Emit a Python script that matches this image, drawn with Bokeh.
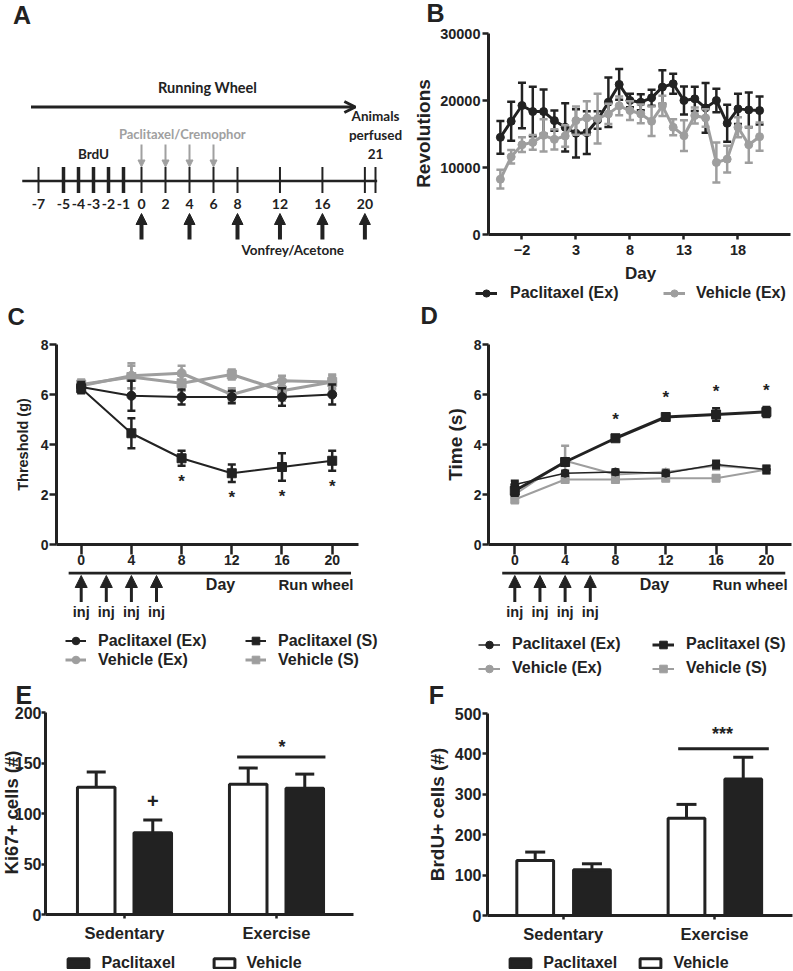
import math
from bokeh.plotting import figure
from bokeh.models import (ColumnDataSource, Range1d, FixedTicker, Arrow, NormalHead, OpenHead,
                          Legend, LegendItem, LinearInterpolator)
from bokeh.layouts import row, column
from bokeh.transform import transform, dodge
from bokeh.core.properties import value
from bokeh.embed import file_html
from bokeh.resources import INLINE

# ---------------- data ----------------
# Panel A: experimental timeline (days)
tl_tick_days = [-7, -5, -4, -3, -2, -1, 0, 2, 4, 6, 8, 12, 16, 20, 21]
tl_label_days = [-7, -5, -4, -3, -2, -1, 0, 2, 4, 6, 8, 12, 16, 20]
tl_labels = ["-7", "-5", "-4", "-3", "-2", "-1", "0", "2", "4", "6", "8", "12", "16", "20"]
brdu_days = [-5, -4, -3, -2, -1]
drug_days = [0, 2, 4, 6]
test_days = [0, 4, 8, 12, 16, 20]
perfusion_day = 21
wheel_span = [-7.6, 19.1]
# schematic (broken) day scale of the timeline drawing
tl_scale_days = [-9, -7, -5, -1, 0, 8, 21, 22]
tl_scale_px = [13, 38, 63, 123, 141, 237, 375, 386]

# Panel B: running wheel revolutions
b_days = list(range(-4, 21))
b_pac = [14500, 16900, 19250, 18350, 18350, 17000, 16000, 15100, 15200, 17100, 19750, 22400, 20000,
         19750, 20400, 22000, 22500, 20000, 20250, 18900, 20000, 16600, 18750, 18600, 18500]
b_pac_sem = [2450, 2900, 3400, 3700, 3300, 1500, 3600, 3600, 3200, 1300, 3700, 2300, 1000,
             1200, 1200, 2500, 1500, 2100, 1800, 3700, 1750, 2750, 2250, 2600, 2100]
b_veh = [8250, 11600, 13400, 13750, 14800, 14200, 14700, 17000, 17400, 17300, 18000, 19200, 18500,
         18000, 16900, 19200, 16000, 14750, 17750, 17400, 10750, 11250, 16000, 13400, 14600]
b_veh_sem = [1400, 1000, 1100, 1100, 2400, 1500, 1600, 2100, 2500, 3700, 1500, 1400, 1400,
             1400, 2200, 1500, 1200, 2300, 1200, 1300, 3000, 2000, 1500, 2700, 2100]
b_xticks = [-2, 3, 8, 13, 18]
b_yticks = [0, 10000, 20000, 30000]

# Panels C & D
cd_days = [0, 4, 8, 12, 16, 20]
cd_yticks = [0, 2, 4, 6, 8]
inj_days = [0, 2, 4, 6]
run_start, run_end = -1.0, 21.5
sig_days = [8, 12, 16, 20]

c_pac_ex = [6.3, 5.95, 5.9, 5.9, 5.9, 6.0]
c_pac_ex_sem = [0.2, 0.6, 0.3, 0.25, 0.35, 0.4]
c_pac_s = [6.25, 4.45, 3.45, 2.85, 3.1, 3.35]
c_pac_s_sem = [0.2, 0.6, 0.3, 0.35, 0.55, 0.4]
c_veh_ex = [6.35, 6.75, 6.85, 6.0, 6.55, 6.5]
c_veh_ex_sem = [0.2, 0.5, 0.3, 0.25, 0.2, 0.25]
c_veh_s = [6.4, 6.7, 6.45, 6.8, 6.15, 6.5]
c_veh_s_sem = [0.2, 0.45, 0.3, 0.2, 0.4, 0.3]

d_pac_ex = [2.4, 2.85, 2.9, 2.85, 3.2, 3.0]
d_pac_ex_sem = [0.15, 0.1, 0.1, 0.1, 0.15, 0.15]
d_pac_s = [2.15, 3.3, 4.25, 5.1, 5.2, 5.3]
d_pac_s_sem = [0.2, 0.15, 0.1, 0.1, 0.25, 0.2]
d_veh_ex = [2.0, 3.35, 2.8, 2.9, 3.15, 3.0]
d_veh_ex_sem = [0.15, 0.6, 0.1, 0.1, 0.15, 0.1]
d_veh_s = [1.8, 2.6, 2.6, 2.65, 2.65, 3.0]
d_veh_s_sem = [0.15, 0.1, 0.1, 0.1, 0.1, 0.15]

# Panels E & F
groups = ["Sedentary", "Exercise"]
e_veh = [126, 129]
e_veh_sem = [15, 16]
e_pac = [81, 125]
e_pac_sem = [12.5, 14]
e_yticks = [0, 50, 100, 150, 200]
f_veh = [136, 241]
f_veh_sem = [21, 34]
f_pac = [113, 338]
f_pac_sem = [15, 54]
f_yticks = [0, 100, 200, 300, 400, 500]

# ---------------- style ----------------
FONT = "Liberation Sans"
AFONT = "Lato"
BLACK = "#222222"
GRAY = "#9e9e9e"
AGRAY = "#a0a0a0"
MID = 0.35  # em offset between a text's baseline and its middle

# page geometry (page pixels; the layout starts at the page's top-left corner)
LX, LW = 0, 405
RX, RW = 405, 388


class Frame:
    def __init__(s, left, top, width, height, x0, x1, y0, y1):
        s.left, s.top, s.width, s.height = left, top, width, height
        s.x0, s.x1, s.y0, s.y1 = x0, x1, y0, y1
        s.bottom = top + height
        s.upp = (y1 - y0) / height

    def dx(s, px):
        return s.x0 + (px - s.left) * (s.x1 - s.x0) / s.width

    def dy(s, py):
        return s.y0 + (s.bottom - py) * s.upp


def panel_frame(cx, cw, ry, rh, ax_px, ax_val, ppx, base_py, ppy):
    """Frame filling a whole cell; data value ax_val sits at page x ax_px, y=0 at page y base_py."""
    x0 = ax_val - (ax_px - cx) / ppx
    y0 = -(ry + rh - base_py) / ppy
    return Frame(cx, ry, cw, rh, x0, x0 + cw / ppx, y0, y0 + rh / ppy)


def make_fig(fr, cx, cw, ry, rh):
    p = figure(frame_width=fr.width, frame_height=fr.height,
               x_range=Range1d(fr.x0, fr.x1), y_range=Range1d(fr.y0, fr.y1),
               min_border_left=fr.left - cx, min_border_right=cx + cw - (fr.left + fr.width),
               min_border_top=fr.top - ry, min_border_bottom=ry + rh - fr.bottom,
               output_backend="svg", toolbar_location=None, title=None, frame_align=False)
    p.grid.visible = False
    p.outline_line_color = None
    return p


def canvas(cx, cw, ry, rh, x0=None, x1=None):
    xr = Range1d(cx, cx + cw) if x0 is None else Range1d(x0, x1)
    p = figure(frame_width=cw, frame_height=rh, x_range=xr, y_range=Range1d(ry + rh, ry),
               x_axis_type=None, y_axis_type=None, output_backend="svg", toolbar_location=None,
               min_border_left=0, min_border_right=0, min_border_top=0, min_border_bottom=0,
               title=None, frame_align=False)
    p.outline_line_color = None
    return p


def ctext(p, xs, ys, texts, px, up=-1.0, color=BLACK, align="center", font=FONT):
    """ys are baselines; up = data units per screen pixel upward (-1 on page-pixel strips)."""
    p.text(x=xs, y=[y + MID * px * up for y in ys], text=texts, text_font=value(font),
           text_font_size=f"{px}px", text_font_style="bold", text_color=color, text_align=align,
           text_baseline="middle")


def ftext(p, fr, px_x, px_base, text, px, align="center"):
    ctext(p, [fr.dx(px_x)], [fr.dy(px_base)], [text], px, up=fr.upp, align=align)


def vlabel(p, fr, px_x, px_y, text, px):
    p.text(x=[fr.dx(px_x)], y=[fr.dy(px_y)], text=[text], angle=math.pi / 2,
           text_font=value(FONT), text_font_size=f"{px}px", text_font_style="bold",
           text_color=BLACK, text_align="center", text_baseline="middle")


def style_axis(ax, ticks, size, tick_out, standoff, label=None, lsize="16px", lstand=0):
    ax.ticker = FixedTicker(ticks=ticks)
    ax.axis_line_width = 3
    ax.axis_line_color = BLACK
    ax.major_tick_line_width = 2.5
    ax.major_tick_line_color = BLACK
    ax.major_tick_in = 0
    ax.major_tick_out = tick_out
    ax.minor_tick_line_color = None
    ax.major_label_text_font = FONT
    ax.major_label_text_font_size = size
    ax.major_label_text_font_style = "bold"
    ax.major_label_text_color = BLACK
    ax.major_label_standoff = standoff
    if label:
        ax.axis_label = label
        ax.axis_label_text_font = FONT
        ax.axis_label_text_font_size = lsize
        ax.axis_label_text_font_style = "bold"
        ax.axis_label_text_color = BLACK
        ax.axis_label_standoff = lstand


def series(p, x, y, sem, color, marker, size, lw, elw=2.5, cap=8):
    src = ColumnDataSource(dict(x=x, y=y, lo=[a - b for a, b in zip(y, sem)],
                                hi=[a + b for a, b in zip(y, sem)]))
    p.segment(x0="x", y0="lo", x1="x", y1="hi", line_color=color, line_width=elw, source=src)
    p.scatter("x", "lo", marker="dash", size=cap, line_color=color, line_width=elw, source=src)
    p.scatter("x", "hi", marker="dash", size=cap, line_color=color, line_width=elw, source=src)
    ln = p.line("x", "y", line_color=color, line_width=lw, source=src)
    sc = p.scatter("x", "y", marker=marker, size=size, fill_color=color, line_color=color, source=src)
    return [ln, sc]


OFF = -1.0e6  # legend proxies live far outside the visible strip


def proxy_series(p, color, marker, lw):
    src = ColumnDataSource(dict(x=[OFF, OFF + 1], y=[OFF, OFF]))
    ln = p.line("x", "y", line_color=color, line_width=lw, source=src)
    sc = p.scatter("x", "y", marker=marker, fill_color=color, line_color=color, source=src)
    return [ln, sc]


def legend(p, strip_left, strip_bottom, items, glyph_left, center_y, gw, gh, standoff,
           spacing=0, item_h=None):
    h = item_h if item_h else gh
    n = len(items)
    top = center_y - h / 2
    bottom = top + n * h + (n - 1) * spacing
    leg = Legend(items=[LegendItem(label=value(t), renderers=r) for t, r in items],
                 location=(glyph_left - strip_left, strip_bottom - bottom),
                 orientation="vertical",
                 glyph_width=gw, glyph_height=gh, label_height=gh, label_width=10,
                 label_standoff=standoff, spacing=spacing, padding=0, margin=0,
                 border_line_color=None, background_fill_alpha=0,
                 label_text_font=FONT, label_text_font_size="16px", label_text_font_style="bold",
                 label_text_color=BLACK)
    p.add_layout(leg)


# ---------------- Panel A (schematic) ----------------
pA = canvas(LX, LW, 0, 302)
tl_scale = LinearInterpolator(x=tl_scale_days, y=tl_scale_px)

line_src = ColumnDataSource(dict(d0=[tl_tick_days[0] - 1.3], d1=[tl_tick_days[-1] + 0.15]))
pA.segment(x0=transform("d0", tl_scale), y0=180.5, x1=transform("d1", tl_scale), y1=180.5,
           line_width=2.3, line_color=BLACK, source=line_src)
tick_src = ColumnDataSource(dict(day=tl_tick_days,
                                 w=[3.5 if d in brdu_days else 2.0 for d in tl_tick_days]))
pA.segment(x0=transform("day", tl_scale), y0=166.5, x1=transform("day", tl_scale), y1=192.5,
           line_width="w", line_color=BLACK, source=tick_src)
pA.text(x=transform("day", tl_scale), y=208.5 - MID * 14, text="lab",
        source=ColumnDataSource(dict(day=tl_label_days, lab=tl_labels)),
        text_font=value(AFONT), text_font_size="14px", text_font_style="bold",
        text_align="center", text_baseline="middle", text_color=BLACK)

pA.add_layout(Arrow(source=ColumnDataSource(dict(day=drug_days)),
                    x_start=transform("day", tl_scale), y_start=144,
                    x_end=transform("day", tl_scale), y_end=166.5,
                    line_color=AGRAY, line_width=2,
                    end=NormalHead(size=7, fill_color=AGRAY, line_color=AGRAY, line_width=1)))
pA.add_layout(Arrow(source=ColumnDataSource(dict(day=test_days)),
                    x_start=transform("day", tl_scale), y_start=239,
                    x_end=transform("day", tl_scale), y_end=213,
                    line_color=BLACK, line_width=4,
                    end=NormalHead(size=11, fill_color=BLACK, line_color=BLACK, line_width=1)))
pA.add_layout(Arrow(source=ColumnDataSource(dict(d0=[wheel_span[0]], d1=[wheel_span[1]])),
                    x_start=transform("d0", tl_scale), y_start=106.5,
                    x_end=transform("d1", tl_scale), y_end=106.5,
                    line_color=BLACK, line_width=3,
                    end=OpenHead(size=11, line_width=3, line_color=BLACK)))

a_base = [92, 138.5, 158.5, 254, 120.5, 139.5, 158.5]
a_px = [14.5, 13, 13.5, 13.5, 13.5, 13.5, 13.5]
a_text = ColumnDataSource(dict(
    day=[5.5, 3.4, -3, 13.2, perfusion_day, perfusion_day, perfusion_day],
    y=[b - MID * s for b, s in zip(a_base, a_px)],
    text=["Running Wheel", "Paclitaxel/Cremophor", "BrdU", "Vonfrey/Acetone", "Animals",
          "perfused", str(perfusion_day)],
    color=[BLACK, AGRAY, BLACK, BLACK, BLACK, BLACK, BLACK],
    size=[f"{s}px" for s in a_px]))
pA.text(x=transform("day", tl_scale), y="y", text="text", text_color="color", text_font_size="size",
        text_font=value(AFONT), text_font_style="bold", text_align="center",
        text_baseline="middle", source=a_text)
ctext(pA, [12.5], [23.5], ["A"], 25, align="left")

# ---------------- Panel B (one cell; axes placed at fixed data positions) ----------------
fB = panel_frame(RX, RW, 0, 302, 488, -5.1, 10.8, 234, 201 / 30000.0)
pB = make_fig(fB, RX, RW, 0, 302)
style_axis(pB.xaxis[0], b_xticks, "14.5px", 5, 5)
pB.xaxis[0].fixed_location = 0
pB.xaxis[0].bounds = (-5.1, fB.dx(790))
style_axis(pB.yaxis[0], b_yticks, "14.5px", 6, 2)
pB.yaxis[0].fixed_location = -5.1
pB.yaxis[0].bounds = (0, 30000)
rb_pac = series(pB, b_days, b_pac, b_pac_sem, BLACK, "circle", 8, 3)
rb_veh = series(pB, b_days, b_veh, b_veh_sem, GRAY, "circle", 8, 3)
ftext(pB, fB, 640, 279, "Day", 17)
vlabel(pB, fB, 423, 133, "Revolutions", 19)
ftext(pB, fB, 426, 21.7, "B", 25, align="left")
legend(pB, RX, 302, [("Paclitaxel (Ex)", rb_pac)], 475, 292.5, 22, 18, 13)
legend(pB, RX, 302, [("Vehicle (Ex)", rb_veh)], 663, 292.5, 22, 18, 11)


# ---------------- Panels C & D ----------------
def timeline(p):
    p.segment(x0=[run_start], y0=[572.5], x1=[run_end], y1=[572.5], line_width=3, line_color=BLACK)
    src = ColumnDataSource(dict(day=inj_days, txt=["inj"] * len(inj_days)))
    p.add_layout(Arrow(source=src, x_start="day", y_start=601.5, x_end="day", y_end=575,
                       line_width=3, line_color=BLACK,
                       end=NormalHead(size=12, fill_color=BLACK, line_color=BLACK, line_width=1)))
    p.text(x="day", y=617 - MID * 14.5, text="txt", source=src, text_align="center",
           text_baseline="middle", text_font=value(FONT), text_font_size="14.5px",
           text_font_style="bold", text_color=BLACK)
    ctext(p, [11.1], [590], ["Day"], 16)
    ctext(p, [18.7], [589], ["Run wheel"], 15)


PX_CD = 8 / 200.0  # data units per pixel in C and D


def stars(p, xs, ys):
    ctext(p, xs, ys, ["*"] * len(xs), 17, up=PX_CD)


ci = [cd_days.index(d) for d in sig_days]

pC_head = canvas(LX, LW, 302, 28)
ctext(pC_head, [7], [324], ["C"], 24, align="left")
fC = Frame(56, 344, 302, 200, -1.968, 22.096, 0, 8)
pC = make_fig(fC, LX, LW, 330, 241)
style_axis(pC.xaxis[0], cd_days, "14px", 10, 0)
style_axis(pC.yaxis[0], cd_yticks, "14px", 7, 1, "Threshold (g)", "14.5px", 7)
series(pC, cd_days, c_veh_ex, c_veh_ex_sem, GRAY, "circle", 9, 3)
series(pC, cd_days, c_veh_s, c_veh_s_sem, GRAY, "square", 9, 3)
series(pC, cd_days, c_pac_ex, c_pac_ex_sem, BLACK, "circle", 9, 2)
series(pC, cd_days, c_pac_s, c_pac_s_sem, BLACK, "square", 9, 2)
stars(pC, sig_days, [c_pac_s[i] - c_pac_s_sem[i] - 0.87 for i in ci])

pC_foot = canvas(LX, LW, 571, 108, (LX - 80.7) / 12.55, (LX + LW - 80.7) / 12.55)
timeline(pC_foot)
legend(pC_foot, LX, 679, [("Paclitaxel (Ex)", proxy_series(pC_foot, BLACK, "circle", 2)),
                          ("Vehicle (Ex)", proxy_series(pC_foot, GRAY, "circle", 3))],
       65, 640.7, 21, 19, 12)
legend(pC_foot, LX, 679, [("Paclitaxel (S)", proxy_series(pC_foot, BLACK, "square", 2)),
                          ("Vehicle (S)", proxy_series(pC_foot, GRAY, "square", 3))],
       245, 640.7, 21, 19, 12)

pD_head = canvas(RX, RW, 302, 28)
ctext(pD_head, [420], [323.3], ["D"], 24, align="left")
fD = Frame(488, 344, 303, 200, -2.091, -2.091 + 303 / 12.58, 0, 8)
pD = make_fig(fD, RX, RW, 330, 241)
style_axis(pD.xaxis[0], cd_days, "14px", 10, 0)
style_axis(pD.yaxis[0], cd_yticks, "14px", 6, 1, "Time (s)", "19px", 5)
series(pD, cd_days, d_veh_s, d_veh_s_sem, GRAY, "square", 8, 2)
series(pD, cd_days, d_veh_ex, d_veh_ex_sem, GRAY, "circle", 8, 2)
series(pD, cd_days, d_pac_ex, d_pac_ex_sem, BLACK, "circle", 8, 1.5)
series(pD, cd_days, d_pac_s, d_pac_s_sem, BLACK, "square", 9, 3)
stars(pD, sig_days, [d_pac_s[i] + d_pac_s_sem[i] + 0.43 for i in ci])

pD_foot = canvas(RX, RW, 571, 108, (RX - 514.3) / 12.58, (RX + RW - 514.3) / 12.58)
timeline(pD_foot)
legend(pD_foot, RX, 679, [("Paclitaxel (Ex)", proxy_series(pD_foot, BLACK, "circle", 1.5)),
                          ("Vehicle (Ex)", proxy_series(pD_foot, GRAY, "circle", 2))],
       478, 644.3, 22, 19, 12, 5)
legend(pD_foot, RX, 679, [("Paclitaxel (S)", proxy_series(pD_foot, BLACK, "square", 3)),
                          ("Vehicle (S)", proxy_series(pD_foot, GRAY, "square", 2))],
       652, 644.3, 22, 19, 12, 5)


# ---------------- Panels E & F (one cell each; axes placed at fixed data positions) ----------
def bars(p, vals, sems, off, width, fill, cap):
    src = ColumnDataSource(dict(g=list(range(len(groups))), top=vals,
                                hi=[v + s for v, s in zip(vals, sems)]))
    x = dodge("g", off)
    r = p.vbar(x=x, top="top", bottom=0, width=width, fill_color=fill, line_color=BLACK,
               line_width=3, source=src)
    p.segment(x0=x, y0="top", x1=x, y1="hi", line_color=BLACK, line_width=3, source=src)
    p.scatter(x=x, y="hi", marker="dash", size=cap, line_color=BLACK, line_width=3, source=src)
    return [r]


def cat_axes(p, fr, ax_x, x_end, yticks, ytop, tick_out):
    ax = p.xaxis[0]
    style_axis(ax, list(range(len(groups))), "16.5px", 4, 5)
    ax.major_label_overrides = {i: g for i, g in enumerate(groups)}
    ax.fixed_location = 0
    ax.bounds = (ax_x, x_end)
    ay = p.yaxis[0]
    style_axis(ay, yticks, "16px", tick_out, 0)
    ay.fixed_location = ax_x
    ay.bounds = (0, ytop)


fE = panel_frame(LX, LW, 679, 292, 45, -0.5197, 152.0, 914, 202 / 200.0)
pE = make_fig(fE, LX, LW, 679, 292)
cat_axes(pE, fE, -0.5197, 1.5066, e_yticks, 200, 4)
re_veh = bars(pE, e_veh, e_veh_sem, -0.186, 0.247, "white", 19)
re_pac = bars(pE, e_pac, e_pac_sem, 0.186, 0.247, BLACK, 19)
ctext(pE, [0 + 0.186], [e_pac[0] + e_pac_sem[0] + 12], ["+"], 20, up=fE.upp)
e_line = max(e_veh[1] + e_veh_sem[1], e_pac[1] + e_pac_sem[1]) + 11
pE.segment(x0=[1 - 0.259], y0=[e_line], x1=[1 + 0.322], y1=[e_line], line_width=3, line_color=BLACK)
ctext(pE, [1.037], [e_line + 3.5], ["*"], 18, up=fE.upp)
vlabel(pE, fE, 11, 812, "Ki67+ cells (#)", 18.5)
ftext(pE, fE, 15, 703, "E", 25, align="left")
legend(pE, LX, 971, [("Paclitaxel", re_pac)], 65.4, 962.5, 26, 12, 10, item_h=18)
legend(pE, LX, 971, [("Vehicle", re_veh)], 210.5, 962.5, 26, 12, 10, item_h=18)

fF = panel_frame(RX, RW, 679, 292, 487, -0.5003, 151.3, 915, 202 / 500.0)
pF = make_fig(fF, RX, RW, 679, 292)
cat_axes(pF, fF, -0.5003, fF.dx(792), f_yticks, 500, 5)
pF.yaxis[0].major_label_standoff = 1
rf_veh = bars(pF, f_veh, f_veh_sem, -0.185, 0.243, "white", 20)
rf_pac = bars(pF, f_pac, f_pac_sem, 0.19, 0.243, BLACK, 20)
f_line = max(f_veh[1] + f_veh_sem[1], f_pac[1] + f_pac_sem[1]) + 21
pF.segment(x0=[0.76], y0=[f_line], x1=[1.359], y1=[f_line], line_width=3, line_color=BLACK)
ctext(pF, [1.053], [f_line + 21], ["***"], 18, up=fF.upp)
vlabel(pF, fF, 437, 814, "BrdU+ cells (#)", 19)
ftext(pF, fF, 428.3, 703.3, "F", 25, align="left")
legend(pF, RX, 971, [("Paclitaxel", rf_pac)], 507.3, 962.5, 26, 12, 10, item_h=18)
legend(pF, RX, 971, [("Vehicle", rf_veh)], 637.4, 962.5, 26, 12, 10, item_h=18)

layout = row(column(pA, pC_head, pC, pC_foot, pE),
             column(pB, pD_head, pD, pD_foot, pF))
open("out.html", "w").write(file_html(layout, INLINE))
